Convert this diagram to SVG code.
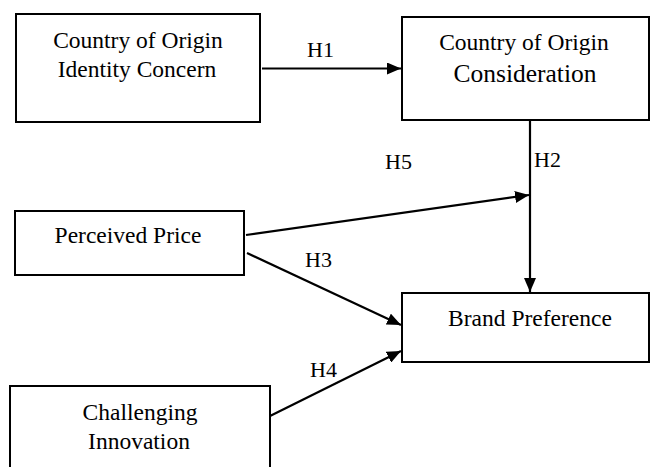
<svg xmlns="http://www.w3.org/2000/svg" width="651" height="467" viewBox="0 0 651 467">
<style>
.box{fill:#fff;stroke:#000;stroke-width:2}
.t{font-size:23.5px;fill:#000;text-anchor:middle}
.l{font-size:22px;fill:#000}
.c{stroke:#000;stroke-width:2.2;fill:none;marker-end:url(#ah)}
</style>
<defs>
<marker id="ah" viewBox="0 0 14 12" refX="14" refY="6" markerWidth="14" markerHeight="12" markerUnits="userSpaceOnUse" orient="auto">
<path d="M0,0 L14,6 L0,12 z" fill="#000"/>
</marker>
</defs>
<rect width="651" height="467" fill="#fff"/>
<g id="connectors" font-family="Liberation Serif, Times New Roman, serif">
<line class="c" x1="262" y1="68.5" x2="401" y2="68.5"/>
<line class="c" x1="530" y1="121" x2="530" y2="292"/>
<line class="c" x1="246" y1="235" x2="529" y2="195"/>
<line class="c" x1="247" y1="253" x2="401" y2="325"/>
<line class="c" x1="270" y1="416" x2="401" y2="351"/>
<text class="l" x="307" y="57">H1</text>
<text class="l" x="534" y="167">H2</text>
<text class="l" x="385" y="169">H5</text>
<text class="l" x="305" y="267">H3</text>
<text class="l" x="310" y="377">H4</text>
</g>
<g id="coi-identity" font-family="Liberation Serif, Times New Roman, serif">
<rect class="box" x="16" y="14" width="244" height="108"/>
<text class="t" x="138" y="48">Country of Origin</text>
<text class="t" x="137" y="77">Identity Concern</text>
</g>
<g id="coi-consideration" font-family="Liberation Serif, Times New Roman, serif">
<rect class="box" x="402" y="17" width="247" height="103"/>
<text class="t" x="524" y="50">Country of Origin</text>
<text class="t" x="525" y="82" style="font-size:25.5px">Consideration</text>
</g>
<g id="perceived-price" font-family="Liberation Serif, Times New Roman, serif">
<rect class="box" x="15" y="211" width="229" height="64"/>
<text class="t" x="128" y="243">Perceived Price</text>
</g>
<g id="brand-preference" font-family="Liberation Serif, Times New Roman, serif">
<rect class="box" x="402" y="293" width="247" height="69"/>
<text class="t" x="530" y="326">Brand Preference</text>
</g>
<g id="challenging-innovation" font-family="Liberation Serif, Times New Roman, serif">
<rect class="box" x="10" y="386" width="260" height="90"/>
<text class="t" x="140" y="420">Challenging</text>
<text class="t" x="139" y="449">Innovation</text>
</g>
</svg>
